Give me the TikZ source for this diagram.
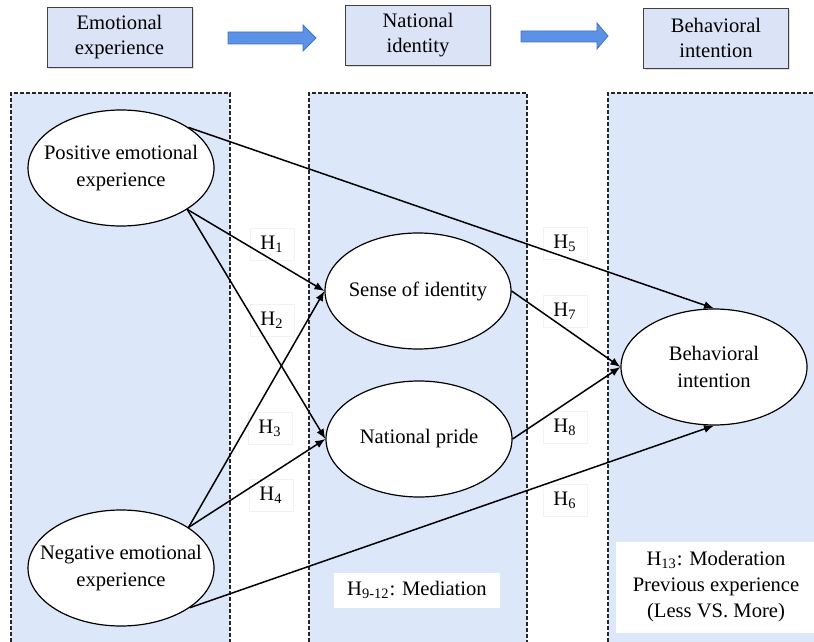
\documentclass[tikz,border=0pt]{standalone}
\usepackage{fontspec}
\setmainfont{Liberation Serif}
\usepackage{tikz}
\usetikzlibrary{arrows.meta}
\usetikzlibrary{shapes.geometric}
\usetikzlibrary{shadows}

\definecolor{colblue}{RGB}{220,232,249}
\definecolor{headblue}{RGB}{218,228,246}
\definecolor{arrblue}{RGB}{91,146,229}
\definecolor{arrline}{RGB}{68,114,196}

\begin{document}
\begin{tikzpicture}[x=0.5pt,y=-0.5pt,
	headbox/.style={draw=black!75,fill=headblue,minimum width=72.5pt,minimum height=30pt,inner sep=0pt,align=center,font=\fontsize{10.3}{12.5}\selectfont,drop shadow={opacity=0.25,shadow xshift=0.8pt,shadow yshift=-0.8pt}},
	flowarrow/.style={draw=arrline,fill=arrblue,line width=0.4pt},
	construct/.style={ellipse,draw,fill=white,line width=0.6pt,minimum width=93pt,minimum height=58pt,inner xsep=-10pt,inner ysep=0pt,align=center,font=\fontsize{10.3}{13.5}\selectfont},
	hyp/.style={draw=black!5,fill=white,minimum width=22pt,minimum height=16pt,inner sep=0pt,font=\fontsize{10.3}{13.5}\selectfont},
	notebox/.style={fill=white,inner sep=0pt,align=center,font=\fontsize{10.3}{13}\selectfont},
	effect/.style={-{Latex[length=5pt,width=4pt]},line width=0.75pt},
	frame/.style={dash pattern=on 2pt off 1pt,line width=0.7pt,draw=black!85}
	]
\useasboundingbox (0,0) rectangle (814,642);

% columns
\fill [colblue] (11,93) rectangle (230,642);
\draw [frame] (11,642) -- (11,93) -- (230,93) -- (230,642);
\fill [colblue] (309,93) rectangle (527,642);
\draw [frame] (309,642) -- (309,93) -- (527,93) -- (527,642);
\fill [colblue] (608,93) rectangle (814,642);
\draw [frame] (608,642) -- (608,93) -- (814,93);

\node[headbox] (hemo) at (119.5,37) {Emotional\\experience};
\node[headbox] (hnat) at (418,35) {National\\identity};
\node[headbox] (hbeh) at (716,38) {Behavioral\\intention};

% block arrows
\draw [flowarrow] (228,32) -- (303,32) -- (303,25) -- (316,38) -- (303,51) -- (303,44) -- (228,44) -- cycle;
\draw [flowarrow] (521,31) -- (597,31) -- (597,23) -- (608,36) -- (597,49) -- (597,42) -- (521,42) -- cycle;

\node[construct] (pos) at (121,168) {Positive emotional\\experience};
\node[construct] (neg) at (121,568) {Negative emotional\\experience};
\node[construct] (sense) at (418,291) {Sense of identity};
\node[construct] (pride) at (419,439) {National pride};
\node[construct] (bi) at (714,367) {Behavioral\\intention};

\node[hyp] (h1) at (272,244) {H\textsubscript{1}};
\node[hyp] (h2) at (272,320) {H\textsubscript{2}};
\node[hyp] (h3) at (270,428) {H\textsubscript{3}};
\node[hyp] (h4) at (271,495) {H\textsubscript{4}};
\node[hyp] (h5) at (565,243) {H\textsubscript{5}};
\node[hyp] (h7) at (565,311) {H\textsubscript{7}};
\node[hyp] (h8) at (565,427) {H\textsubscript{8}};
\node[hyp] (h6) at (565,500) {H\textsubscript{6}};

\node[notebox,minimum width=83pt,minimum height=17.5pt] (med) at (417,590) {H\textsubscript{9-12}: Mediation};
\node[notebox,minimum width=100pt,minimum height=45.5pt] (mod) at (716,587) {H\textsubscript{13}: Moderation\\Previous experience\\(Less VS. More)};

\draw [effect] (pos.31) -- (bi.north);
\draw [effect] (pos.-32) -- (sense.west);
\draw [effect] (pos.-32) -- (pride.west);
\draw [effect] (neg.31) -- (sense.west);
\draw [effect] (neg.31) -- (pride.west);
\draw [effect] (neg.-30) -- (bi.south);
\draw [effect] (sense.east) -- (bi.west);
\draw [effect] (pride.east) -- (bi.west);

\end{tikzpicture}
\end{document}
